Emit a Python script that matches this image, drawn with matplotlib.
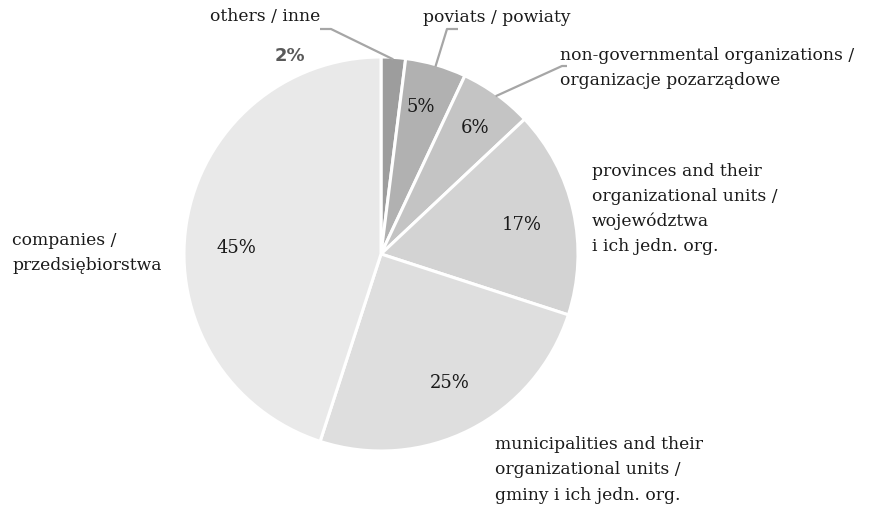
import matplotlib
matplotlib.use("Agg")
import matplotlib.pyplot as plt
import numpy as np

categories = ["others / inne", "poviats / powiaty",
              "non-governmental organizations /\norganizacje pozarządowe",
              "provinces and their\norganizational units /\nwojewództwa\ni ich jedn. org.",
              "municipalities and their\norganizational units /\ngminy i ich jedn. org.",
              "companies /\nprzedsiębiorstwa"]
values = [2, 5, 6, 17, 25, 45]
pct_labels = ["2%", "5%", "6%", "17%", "25%", "45%"]
colors = ["#9d9d9d", "#b1b1b1", "#c4c4c4", "#d3d3d3", "#dedede", "#e9e9e9"]

W, H = 874, 506
CX, CY, R = 381, 255, 197

fig = plt.figure(figsize=(W / 100, H / 100), dpi=100)
ax = fig.add_axes([0, 0, 1, 1])

def P(x, y):
    return ((x - CX) / R, (CY - y) / R)

wedges, _ = ax.pie(values, colors=colors, startangle=90, counterclock=False,
                   radius=1, center=(0, 0), frame=True,
                   wedgeprops=dict(edgecolor="white", linewidth=2.2))
ax.set_xlim(-CX / R, (W - CX) / R)
ax.set_ylim(-(H - CY) / R, CY / R)
ax.set_aspect("auto")
ax.axis("off")

serif = "DejaVu Serif"
fs = 12.3
tc = "#1a1a1a"

# percentage labels inside
pct_pos = [None, (421, 107), (475, 128), (522, 225), (450, 383), (236, 248)]
for lab, pos in zip(pct_labels, pct_pos):
    if pos is None:
        continue
    ax.text(*P(*pos), lab, ha="center", va="center", fontsize=13, family=serif, color=tc)
ax.text(*P(290, 56), pct_labels[0], ha="center", va="center", fontsize=13,
        family="DejaVu Sans", fontweight="bold", color="#595959")

# category labels
lab_pos = [(210, 17, "left"), (423, 18, "left"), (560, 68, "left"),
           (592, 209, "left"), (495, 470, "left"), (12, 253, "left")]
for lab, (x, y, ha) in zip(categories, lab_pos):
    ax.text(*P(x, y), lab, ha=ha, va="center", fontsize=fs, family=serif,
            color=tc, linespacing=1.62)

# leader lines
lc = "#a6a6a6"
def mid_angle(i):
    start = 90 - 360 * sum(values[:i]) / sum(values)
    return np.deg2rad(start - 180 * values[i] / sum(values))

leaders = [(0, [(320, 30), (331, 30)]), (1, [(458, 30), (447, 30)]), (2, [(567, 67), (562, 67)])]
for i, pts in leaders:
    a = mid_angle(i)
    end = (np.cos(a) * 0.99, np.sin(a) * 0.99)
    xs = [P(*p)[0] for p in pts] + [end[0]]
    ys = [P(*p)[1] for p in pts] + [end[1]]
    ax.plot(xs, ys, color=lc, lw=1.6, solid_capstyle="butt")

fig.savefig("out.png", dpi=100, facecolor="white")
